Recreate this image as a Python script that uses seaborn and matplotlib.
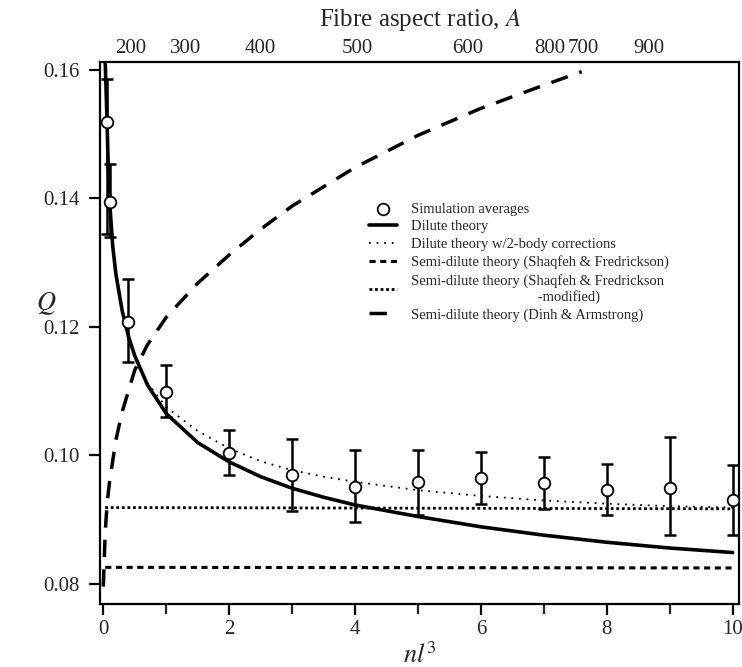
import numpy as np
import pandas as pd
import matplotlib
matplotlib.use("Agg")
import matplotlib.pyplot as plt
import seaborn as sns

# simulation averages with error bar limits
sim_x = [0.06, 0.1, 0.4, 1, 2, 3, 4, 5, 6, 7, 8, 9, 10]
sim_q = [0.1519, 0.1395, 0.1208, 0.1099, 0.1004, 0.0969, 0.0951, 0.0958,
         0.0965, 0.0957, 0.0946, 0.0950, 0.0931]
sim_hi = [0.1585, 0.1454, 0.1274, 0.1140, 0.1039, 0.1026, 0.1008, 0.1008,
          0.1005, 0.0998, 0.0986, 0.1028, 0.0985]
sim_lo = [0.1345, 0.1340, 0.1146, 0.1060, 0.0970, 0.0914, 0.0896, 0.0907,
          0.0925, 0.0917, 0.0907, 0.0876, 0.0876]

# dilute theory
dil_x = [0.03, 0.05, 0.08, 0.1, 0.15, 0.2, 0.3, 0.4, 0.5, 0.7, 1.0, 1.5,
         2.0, 2.5, 3.0, 3.5, 4, 5, 6, 7, 8, 9, 10]
dil_q = [0.1612, 0.1550, 0.1445, 0.1395, 0.1325, 0.1282, 0.1225, 0.1185,
         0.1155, 0.1110, 0.1065, 0.1020, 0.0990, 0.0967, 0.0949, 0.0935,
         0.0923, 0.0905, 0.0889, 0.0876, 0.0865, 0.0856, 0.0849]

# dilute theory with 2-body corrections
two_x = [0.03, 0.05, 0.08, 0.1, 0.15, 0.2, 0.3, 0.4, 0.5, 0.7, 1.0, 1.5,
         2.0, 2.5, 3.0, 3.5, 4, 5, 6, 7, 8, 9, 10]
two_q = [0.1612, 0.1550, 0.1445, 0.1395, 0.1325, 0.1282, 0.1225, 0.1186,
         0.1157, 0.1113, 0.1075, 0.1038, 0.1011, 0.0991, 0.0977, 0.0967,
         0.0959, 0.0946, 0.0937, 0.0930, 0.0925, 0.0921, 0.0919]

# semi-dilute theories
sf_x = [0.03, 10]
sf_q = [0.0826, 0.0825]
sfm_x = [0.03, 10]
sfm_q = [0.0919, 0.0917]
da_x = [0.0, 0.03, 0.06, 0.1, 0.2, 0.3, 0.5, 0.7, 1.0, 1.5, 2.0, 2.5, 3.0,
        4.0, 5.0, 6.0, 7.0, 7.6]
da_q = [0.0796, 0.0880, 0.0925, 0.0960, 0.1024, 0.1068, 0.1133, 0.1172,
        0.1215, 0.1268, 0.1312, 0.1352, 0.1388, 0.1448, 0.1498, 0.1540,
        0.1576, 0.1597]

# top axis (fibre aspect ratio)
top_pos = [0.44, 1.30, 2.50, 4.03, 5.79, 7.10, 7.63, 8.67]
top_lab = ["200", "300", "400", "500", "600", "800", "700", "900"]

sns.set_style("ticks")
plt.rcParams["font.family"] = ["Liberation Serif", "DejaVu Serif"]
plt.rcParams["mathtext.fontset"] = "stix"

fig = plt.figure(figsize=(7.42, 6.67), dpi=100)
ax = fig.add_axes([0.135, 0.0945, 0.861, 0.8125])

sim = pd.DataFrame({"x": sim_x, "q": sim_q, "hi": sim_hi, "lo": sim_lo})
ax.errorbar(sim["x"], sim["q"], yerr=[sim["q"] - sim["lo"], sim["hi"] - sim["q"]],
            fmt="none", ecolor="k", elinewidth=1.8, capsize=4, capthick=1.8, zorder=3)

sns.lineplot(x=dil_x, y=dil_q, ax=ax, color="k", lw=2.6, label="Dilute theory",
             estimator=None, sort=False, zorder=2)
sns.lineplot(x=two_x, y=two_q, ax=ax, color="k", lw=1.3, linestyle=(0, (1, 3.2)),
             label="Dilute theory w/2-body corrections", estimator=None, sort=False)
sns.lineplot(x=sf_x, y=sf_q, ax=ax, color="k", lw=2.2, linestyle=(0, (2, 1.5)),
             label="Semi-dilute theory (Shaqfeh & Fredrickson)", estimator=None)
sns.lineplot(x=sfm_x, y=sfm_q, ax=ax, color="k", lw=2.0, linestyle=(0, (1, 1)),
             label="Semi-dilute theory (Shaqfeh & Fredrickson\n                                   -modified)",
             estimator=None)
sns.lineplot(x=da_x, y=da_q, ax=ax, color="k", lw=2.5, linestyle=(0, (5, 3.5)),
             label="Semi-dilute theory (Dinh & Armstrong)", estimator=None, sort=False)
sns.scatterplot(data=sim, x="x", y="q", ax=ax, s=70, marker="o", facecolor="white",
                edgecolor="k", linewidth=1.3, zorder=4, label="Simulation averages")

ax.set_xlim(-0.05, 10.1)
ax.set_ylim(0.0769, 0.1612)
ax.set_xticks([0, 2, 4, 6, 8, 10])
ax.set_xticks([1, 3, 5, 7, 9], minor=True)
ax.set_yticks([0.08, 0.10, 0.12, 0.14, 0.16])
ax.set_yticklabels(["0.08", "0.10", "0.12", "0.14", "0.16"])
ax.tick_params(axis="both", which="major", length=8, width=1.6, labelsize=15,
               direction="out", color="k")
ax.tick_params(axis="y", pad=7)
ax.tick_params(axis="x", which="minor", length=7, width=1.6)
for sp in ax.spines.values():
    sp.set_linewidth(1.6)
    sp.set_color("k")
    sp.set_visible(True)

ax.set_xlabel("$nl^3$", fontsize=19, labelpad=2)
ax.set_ylabel("$Q$", fontsize=19, rotation=0, va="center")
ax.yaxis.set_label_coords(-0.085, 0.555)

top = ax.twiny()
top.set_xlim(ax.get_xlim())
top.set_xticks(top_pos)
top.set_xticklabels(top_lab)
top.tick_params(axis="x", length=0, labelsize=15, pad=3)
top.set_xlabel("Fibre aspect ratio, $A$", fontsize=18, labelpad=9)
for sp in top.spines.values():
    sp.set_visible(False)

h, l = ax.get_legend_handles_labels()
order = [5, 0, 1, 2, 3, 4]
ax.legend([h[i] for i in order], [l[i] for i in order], loc="upper left",
          bbox_to_anchor=(0.4, 0.765), frameon=False, fontsize=10.5,
          handlelength=1.9, handletextpad=1.0, labelspacing=0.3)

fig.savefig("out.png", dpi=100)
